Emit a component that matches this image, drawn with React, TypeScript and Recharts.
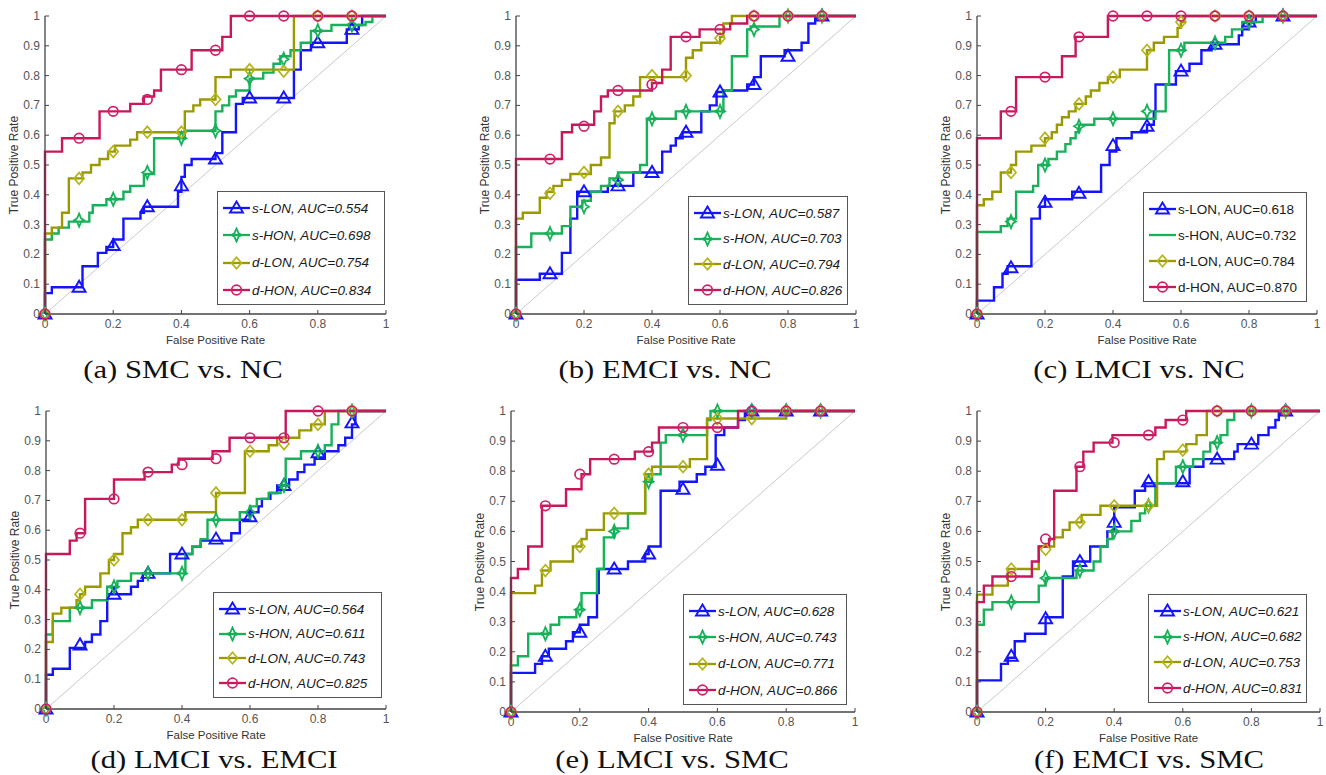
import React from "react";
import { ComposedChart, Line, Scatter, XAxis, YAxis, ReferenceLine, Legend } from "recharts";

type Pt = [number, number];

const markerX = [0, 0.1, 0.2, 0.3, 0.4, 0.5, 0.6, 0.7, 0.8, 0.9];
const xTicks = [0, 0.2, 0.4, 0.6, 0.8, 1];
const yTicks = [0, 0.1, 0.2, 0.3, 0.4, 0.5, 0.6, 0.7, 0.8, 0.9, 1];
const seriesNames = ["s-LON", "s-HON", "d-LON", "d-HON"];

// (a) SMC vs. NC
const aSLon: Pt[] = [[0,0],[0,0.07],[0.02,0.09],[0.11,0.16],[0.155,0.205],[0.18,0.225],[0.2,0.25],[0.23,0.32],[0.28,0.34],[0.29,0.36],[0.39,0.41],[0.4,0.46],[0.41,0.5],[0.43,0.52],[0.5,0.54],[0.52,0.61],[0.56,0.705],[0.58,0.725],[0.73,0.82],[0.75,0.885],[0.78,0.91],[0.885,0.955],[0.92,0.97],[0.93,1],[1,1]];
const aSHon: Pt[] = [[0,0],[0,0.25],[0.02,0.27],[0.04,0.29],[0.07,0.31],[0.13,0.34],[0.14,0.365],[0.18,0.385],[0.23,0.41],[0.25,0.43],[0.29,0.47],[0.32,0.59],[0.41,0.615],[0.5,0.68],[0.52,0.7],[0.54,0.73],[0.56,0.75],[0.6,0.79],[0.64,0.81],[0.67,0.84],[0.69,0.865],[0.72,0.885],[0.75,0.91],[0.78,0.95],[0.84,0.97],[0.94,0.98],[0.96,1],[1,1]];
const aDLon: Pt[] = [[0,0],[0,0.27],[0.02,0.29],[0.05,0.34],[0.07,0.455],[0.11,0.475],[0.135,0.5],[0.16,0.52],[0.185,0.545],[0.205,0.565],[0.25,0.585],[0.27,0.61],[0.41,0.68],[0.435,0.7],[0.455,0.72],[0.5,0.795],[0.545,0.82],[0.73,1],[1,1]];
const aDHon: Pt[] = [[0,0],[0,0.545],[0.05,0.59],[0.16,0.68],[0.25,0.705],[0.29,0.73],[0.32,0.75],[0.34,0.82],[0.43,0.885],[0.52,0.93],[0.545,1],[1,1]];
const aSLonMk = [0,0.09,0.23,0.36,0.43,0.52,0.725,0.725,0.91,0.955];
const aSHonMk = [0,0.315,0.385,0.475,0.59,0.615,0.79,0.855,0.95,0.97];
const aDLonMk = [0,0.455,0.545,0.61,0.61,0.72,0.82,0.815,1,1];
const aDHonMk = [0,0.59,0.68,0.72,0.82,0.885,1,1,1,1];
const aAuc = ["0.554", "0.698", "0.754", "0.834"];

// (b) EMCI vs. NC
const bSLon: Pt[] = [[0,0],[0,0.115],[0.07,0.135],[0.135,0.205],[0.16,0.32],[0.18,0.41],[0.27,0.43],[0.345,0.475],[0.43,0.545],[0.455,0.565],[0.47,0.59],[0.49,0.61],[0.545,0.68],[0.57,0.7],[0.59,0.745],[0.61,0.75],[0.68,0.77],[0.7,0.795],[0.72,0.865],[0.79,0.885],[0.84,0.91],[0.86,0.975],[0.88,1],[1,1]];
const bSHon: Pt[] = [[0,0],[0,0.225],[0.045,0.27],[0.135,0.295],[0.16,0.36],[0.195,0.38],[0.22,0.41],[0.25,0.43],[0.275,0.455],[0.3,0.475],[0.365,0.5],[0.385,0.655],[0.47,0.68],[0.61,0.75],[0.635,0.865],[0.68,0.955],[0.69,0.965],[0.775,1],[1,1]];
const bDLon: Pt[] = [[0,0],[0,0.32],[0.02,0.34],[0.07,0.39],[0.09,0.41],[0.11,0.43],[0.135,0.45],[0.16,0.47],[0.22,0.5],[0.25,0.525],[0.275,0.64],[0.29,0.68],[0.32,0.7],[0.345,0.73],[0.365,0.795],[0.5,0.86],[0.52,0.885],[0.545,0.91],[0.6,0.93],[0.61,0.975],[0.635,1],[1,1]];
const bDHon: Pt[] = [[0,0],[0,0.52],[0.135,0.61],[0.165,0.635],[0.23,0.68],[0.25,0.73],[0.27,0.75],[0.4,0.775],[0.43,0.82],[0.455,0.93],[0.54,0.955],[0.63,0.975],[0.68,1],[1,1]];
const bSLonMk = [0,0.135,0.41,0.43,0.475,0.61,0.745,0.77,0.865,1];
const bSHonMk = [0,0.27,0.36,0.45,0.655,0.68,0.68,0.955,1,1];
const bDLonMk = [0,0.405,0.475,0.68,0.8,0.8,0.925,1,1,1];
const bDHonMk = [0,0.52,0.63,0.75,0.77,0.93,0.955,1,1,1];
const bAuc = ["0.587", "0.703", "0.794", "0.826"];

// (c) LMCI vs. NC
const cSLon: Pt[] = [[0,0],[0,0.045],[0.05,0.09],[0.075,0.135],[0.09,0.16],[0.16,0.32],[0.185,0.36],[0.2,0.385],[0.28,0.41],[0.365,0.5],[0.39,0.545],[0.41,0.59],[0.455,0.61],[0.5,0.635],[0.52,0.68],[0.525,0.77],[0.585,0.815],[0.625,0.84],[0.66,0.885],[0.69,0.905],[0.77,0.935],[0.78,0.955],[0.8,0.98],[0.82,1],[1,1]];
const cSHon: Pt[] = [[0,0],[0,0.275],[0.07,0.295],[0.09,0.32],[0.115,0.41],[0.165,0.43],[0.18,0.5],[0.21,0.52],[0.235,0.545],[0.26,0.57],[0.275,0.59],[0.29,0.61],[0.3,0.635],[0.345,0.655],[0.525,0.68],[0.555,0.77],[0.565,0.885],[0.61,0.91],[0.73,0.93],[0.75,0.955],[0.78,0.98],[0.84,1],[1,1]];
const cDLon: Pt[] = [[0,0],[0,0.365],[0.02,0.385],[0.045,0.41],[0.07,0.475],[0.1,0.5],[0.115,0.545],[0.16,0.565],[0.2,0.59],[0.22,0.61],[0.235,0.635],[0.25,0.66],[0.27,0.68],[0.29,0.705],[0.32,0.73],[0.335,0.75],[0.36,0.775],[0.385,0.795],[0.42,0.82],[0.5,0.885],[0.52,0.91],[0.55,0.93],[0.59,0.96],[0.6,0.98],[0.61,1],[1,1]];
const cDHon: Pt[] = [[0,0],[0,0.59],[0.07,0.68],[0.115,0.795],[0.25,0.865],[0.29,0.93],[0.385,1],[1,1]];
const cSLonMk = [0,0.155,0.375,0.405,0.565,0.63,0.815,0.905,0.98,1];
const cSHonMk = [0,0.31,0.5,0.63,0.655,0.68,0.885,0.91,0.98,1];
const cDLonMk = [0,0.475,0.59,0.705,0.795,0.885,0.98,1,1,1];
const cDHonMk = [0,0.68,0.795,0.93,1,1,1,1,1,1];
const cAuc = ["0.618", "0.732", "0.784", "0.870"];

// (d) LMCI vs. EMCI
const dSLon: Pt[] = [[0,0],[0,0.115],[0.02,0.135],[0.07,0.205],[0.115,0.225],[0.135,0.25],[0.16,0.295],[0.18,0.385],[0.25,0.41],[0.27,0.43],[0.285,0.455],[0.365,0.52],[0.43,0.545],[0.455,0.565],[0.545,0.59],[0.57,0.635],[0.6,0.66],[0.625,0.68],[0.635,0.705],[0.66,0.725],[0.68,0.75],[0.715,0.77],[0.74,0.795],[0.76,0.82],[0.79,0.84],[0.82,0.865],[0.86,0.885],[0.88,0.91],[0.9,0.955],[0.91,1],[1,1]];
const dSHon: Pt[] = [[0,0],[0,0.25],[0.02,0.295],[0.07,0.34],[0.135,0.365],[0.18,0.41],[0.21,0.43],[0.25,0.455],[0.41,0.52],[0.43,0.545],[0.455,0.57],[0.475,0.635],[0.57,0.66],[0.6,0.68],[0.62,0.705],[0.655,0.725],[0.69,0.75],[0.705,0.84],[0.75,0.865],[0.82,0.885],[0.84,0.955],[0.86,1],[1,1]];
const dDLon: Pt[] = [[0,0],[0,0.225],[0.02,0.32],[0.045,0.34],[0.09,0.365],[0.1,0.385],[0.115,0.41],[0.16,0.455],[0.185,0.5],[0.2,0.52],[0.225,0.59],[0.25,0.61],[0.27,0.635],[0.41,0.66],[0.5,0.725],[0.585,0.865],[0.655,0.885],[0.68,0.91],[0.745,0.935],[0.78,0.955],[0.82,1],[1,1]];
const dDHon: Pt[] = [[0,0],[0,0.52],[0.07,0.565],[0.09,0.59],[0.115,0.705],[0.2,0.77],[0.29,0.795],[0.37,0.82],[0.39,0.84],[0.49,0.865],[0.54,0.91],[0.705,1],[1,1]];
const dSLonMk = [0,0.215,0.385,0.455,0.52,0.57,0.645,0.75,0.86,0.96];
const dSHonMk = [0,0.34,0.41,0.455,0.455,0.635,0.66,0.75,0.865,1];
const dDLonMk = [0,0.385,0.5,0.635,0.635,0.725,0.865,0.89,0.955,1];
const dDHonMk = [0,0.59,0.705,0.795,0.82,0.84,0.91,0.91,1,1];
const dAuc = ["0.564", "0.611", "0.743", "0.825"];

// (e) LMCI vs. SMC
const eSLon: Pt[] = [[0,0],[0,0.13],[0.07,0.16],[0.09,0.185],[0.11,0.21],[0.16,0.235],[0.18,0.265],[0.2,0.29],[0.225,0.315],[0.25,0.395],[0.255,0.475],[0.34,0.5],[0.39,0.525],[0.4,0.55],[0.435,0.735],[0.49,0.765],[0.54,0.79],[0.565,0.815],[0.595,0.92],[0.62,0.945],[0.66,0.97],[0.68,1],[1,1]];
const eSHon: Pt[] = [[0,0],[0,0.155],[0.02,0.185],[0.05,0.26],[0.115,0.29],[0.14,0.315],[0.19,0.34],[0.205,0.395],[0.25,0.475],[0.27,0.58],[0.3,0.61],[0.34,0.66],[0.39,0.765],[0.41,0.79],[0.435,0.895],[0.45,0.92],[0.57,0.97],[0.58,1],[1,1]];
const eDLon: Pt[] = [[0,0],[0,0.395],[0.07,0.42],[0.09,0.47],[0.115,0.5],[0.18,0.55],[0.205,0.575],[0.22,0.605],[0.27,0.66],[0.39,0.79],[0.41,0.815],[0.52,0.84],[0.57,0.975],[0.8,1],[1,1]];
const eDHon: Pt[] = [[0,0],[0,0.445],[0.02,0.475],[0.05,0.55],[0.09,0.685],[0.16,0.74],[0.205,0.79],[0.23,0.84],[0.36,0.865],[0.41,0.895],[0.43,0.945],[0.66,1],[1,1]];
const eSLonMk = [0,0.185,0.265,0.475,0.525,0.74,0.82,1,1,1];
const eSHonMk = [0,0.26,0.34,0.6,0.765,0.92,1,1,1,1];
const eDLonMk = [0,0.47,0.55,0.66,0.79,0.815,0.975,0.975,1,1];
const eDHonMk = [0,0.685,0.79,0.84,0.865,0.945,0.945,1,1,1];
const eAuc = ["0.628", "0.743", "0.771", "0.866"];

// (f) EMCI vs. SMC
const fSLon: Pt[] = [[0,0],[0,0.105],[0.07,0.16],[0.09,0.18],[0.11,0.235],[0.14,0.26],[0.2,0.315],[0.25,0.45],[0.28,0.5],[0.33,0.55],[0.38,0.6],[0.4,0.68],[0.46,0.735],[0.49,0.76],[0.62,0.815],[0.66,0.84],[0.75,0.865],[0.76,0.89],[0.82,0.92],[0.85,0.945],[0.87,0.97],[0.88,1],[1,1]];
const fSHon: Pt[] = [[0,0],[0,0.29],[0.02,0.34],[0.045,0.365],[0.18,0.42],[0.2,0.445],[0.29,0.47],[0.34,0.5],[0.36,0.55],[0.38,0.575],[0.395,0.6],[0.45,0.635],[0.475,0.66],[0.49,0.685],[0.52,0.76],[0.58,0.815],[0.63,0.84],[0.66,0.865],[0.68,0.895],[0.71,0.92],[0.73,0.97],[0.75,1],[1,1]];
const fDLon: Pt[] = [[0,0],[0,0.39],[0.045,0.42],[0.09,0.475],[0.18,0.55],[0.225,0.58],[0.25,0.605],[0.27,0.63],[0.305,0.655],[0.36,0.685],[0.525,0.84],[0.545,0.865],[0.61,0.89],[0.64,0.92],[0.67,1],[1,1]];
const fDHon: Pt[] = [[0,0],[0,0.365],[0.02,0.42],[0.045,0.45],[0.16,0.5],[0.18,0.55],[0.21,0.575],[0.225,0.735],[0.29,0.815],[0.31,0.865],[0.34,0.895],[0.395,0.92],[0.52,0.945],[0.55,0.97],[0.61,1],[1,1]];
const fSLonMk = [0,0.185,0.31,0.5,0.63,0.765,0.765,0.84,0.89,1];
const fSHonMk = [0,0.365,0.445,0.47,0.6,0.685,0.815,0.895,1,1];
const fDLonMk = [0,0.475,0.54,0.63,0.685,0.685,0.87,1,1,1];
const fDHonMk = [0,0.45,0.575,0.815,0.895,0.92,0.97,1,1,1];
const fAuc = ["0.621", "0.682", "0.753", "0.831"];

const colors = ["#1414ff", "#16b158", "#9a9a00", "#c8185c"];
const markColors = ["#1414ff", "#16b158", "#b4b41a", "#d0206a"];
const sans = "'Liberation Sans', Arial, sans-serif";

interface Panel {
  caption: string;
  curves: Pt[][];
  marks: number[][];
  auc: string[];
  plot: { left: number; top: number; w: number; h: number };
  legend: { left: number; top: number; w: number; h: number };
  italic: boolean;
  noLegendMarker?: number;
  capX: number;
  capY: number;
}

const panels: Panel[] = [
  { caption: "(a) SMC vs. NC", curves: [aSLon, aSHon, aDLon, aDHon], marks: [aSLonMk, aSHonMk, aDLonMk, aDHonMk], auc: aAuc,
    plot: { left: 45, top: 16, w: 341, h: 298 }, legend: { left: 217, top: 191, w: 168, h: 114 }, italic: true, capX: 183, capY: 370 },
  { caption: "(b) EMCI vs. NC", curves: [bSLon, bSHon, bDLon, bDHon], marks: [bSLonMk, bSHonMk, bDLonMk, bDHonMk], auc: bAuc,
    plot: { left: 516, top: 16, w: 340, h: 298 }, legend: { left: 688, top: 196, w: 160, h: 109 }, italic: true, capX: 665, capY: 370 },
  { caption: "(c) LMCI vs. NC", curves: [cSLon, cSHon, cDLon, cDHon], marks: [cSLonMk, cSHonMk, cDLonMk, cDHonMk], auc: cAuc,
    plot: { left: 977, top: 16, w: 340, h: 298 }, legend: { left: 1143, top: 192, w: 164, h: 110 }, italic: false, noLegendMarker: 1, capX: 1139, capY: 370 },
  { caption: "(d) LMCI vs. EMCI", curves: [dSLon, dSHon, dDLon, dDHon], marks: [dSLonMk, dSHonMk, dDLonMk, dDHonMk], auc: dAuc,
    plot: { left: 46, top: 411, w: 340, h: 298 }, legend: { left: 213, top: 592, w: 169, h: 106 }, italic: true, capX: 214, capY: 760 },
  { caption: "(e) LMCI vs. SMC", curves: [eSLon, eSHon, eDLon, eDHon], marks: [eSLonMk, eSHonMk, eDLonMk, eDHonMk], auc: eAuc,
    plot: { left: 511, top: 411, w: 344, h: 301 }, legend: { left: 683, top: 594, w: 164, h: 111 }, italic: true, capX: 672, capY: 760 },
  { caption: "(f) EMCI vs. SMC", curves: [fSLon, fSHon, fDLon, fDHon], marks: [fSLonMk, fSHonMk, fDLonMk, fDHonMk], auc: fAuc,
    plot: { left: 977, top: 411, w: 343, h: 301 }, legend: { left: 1148, top: 594, w: 159, h: 109 }, italic: true, capX: 1149, capY: 760 },
];

function marker(i: number, cx: number, cy: number) {
  const c = markColors[i];
  if (i === 0)
    return <polygon points={`${cx},${cy - 6.5} ${cx - 6.5},${cy + 4.5} ${cx + 6.5},${cy + 4.5}`} fill="none" stroke={c} strokeWidth={1.9} />;
  if (i === 1)
    return (
      <path
        d={`M${cx},${cy - 6.5} L${cx + 2},${cy - 1.8} L${cx + 5},${cy} L${cx + 2},${cy + 1.8} L${cx},${cy + 6.5} L${cx - 2},${cy + 1.8} L${cx - 5},${cy} L${cx - 2},${cy - 1.8} Z`}
        fill="none" stroke={c} strokeWidth={1.8}
      />
    );
  if (i === 2)
    return <polygon points={`${cx},${cy - 5.8} ${cx + 5},${cy} ${cx},${cy + 5.8} ${cx - 5},${cy}`} fill="none" stroke={c} strokeWidth={1.7} />;
  return <circle cx={cx} cy={cy} r={4.8} fill="none" stroke={c} strokeWidth={1.7} />;
}

const fmtY = (v: number) => (v === 0 ? "0" : v === 1 ? "1" : v.toFixed(1));

const XTick = (props: any) => {
  const { x, y, payload } = props;
  return (
    <g>
      <line x1={x} x2={x} y1={y} y2={y - 4} stroke="#444" strokeWidth={1} />
      <text x={x} y={y + 14} textAnchor="middle" fontSize={12} fill="#555" fontFamily={sans}>
        {fmtY(payload.value)}
      </text>
    </g>
  );
};

const YTick = (props: any) => {
  const { x, y, payload } = props;
  return (
    <g>
      <line x1={x} x2={x + 4} y1={y} y2={y} stroke="#444" strokeWidth={1} />
      <text x={x - 5} y={y + 4} textAnchor="end" fontSize={12} fill="#555" fontFamily={sans}>
        {fmtY(payload.value)}
      </text>
    </g>
  );
};

function LegendBox({ p }: { p: Panel }) {
  const { w, h } = p.legend;
  return (
    <div style={{ width: w, height: h, border: "1px solid #555", background: "#fff", boxSizing: "border-box", position: "relative" }}>
      {seriesNames.map((name, i) => (
        <div key={name} style={{ position: "absolute", left: 4, top: 16 + (i * (h - 32)) / 3 - 9, height: 18, display: "flex", alignItems: "center", whiteSpace: "nowrap" }}>
          <svg width={29} height={16}>
            <line x1={1} x2={28} y1={8} y2={8} stroke={colors[i]} strokeWidth={2.3} />
            {p.noLegendMarker === i ? null : marker(i, 14.5, 8)}
          </svg>
          <span style={{ fontFamily: sans, fontSize: 13.5, fontStyle: p.italic ? "italic" : "normal", color: "#1a1a1a", marginLeft: 1 }}>
            {name}, AUC={p.auc[i]}
          </span>
        </div>
      ))}
    </div>
  );
}

function RocPanel({ p }: { p: Panel }) {
  const chartLeft = p.plot.left - 45;
  const chartTop = p.plot.top - 10;
  return (
    <>
      <div style={{ position: "absolute", left: chartLeft, top: chartTop }}>
        <ComposedChart width={p.plot.w + 55} height={p.plot.h + 40} margin={{ top: 10, right: 10, left: 0, bottom: 0 }}>
          <XAxis type="number" dataKey="x" domain={[0, 1]} ticks={xTicks} height={30}
            tickSize={0} tickMargin={0} tickLine={false} tick={XTick} axisLine={{ stroke: "#444", strokeWidth: 1.3 }} />
          <YAxis type="number" dataKey="y" domain={[0, 1]} ticks={yTicks} width={45}
            tickSize={0} tickMargin={0} tickLine={false} tick={YTick} axisLine={{ stroke: "#444", strokeWidth: 1.3 }} />
          <ReferenceLine segment={[{ x: 0, y: 0 }, { x: 1, y: 1 }]} stroke="#c9c9c9" strokeWidth={1} />
          {p.curves.map((c, i) => (
            <Line key={"l" + i} data={c.map(([x, y]) => ({ x, y }))} dataKey="y" type="stepAfter" stroke={colors[i]}
              strokeWidth={2.4} dot={false} activeDot={false} isAnimationActive={false} />
          ))}
          {p.marks.map((m, i) => (
            <Scatter key={"s" + i} data={markerX.map((x, j) => ({ x, y: m[j] }))} dataKey="y" isAnimationActive={false}
              shape={(sp: any) => marker(i, sp.cx, sp.cy)} />
          ))}
          <Legend layout="vertical" align="center" verticalAlign="middle"
            wrapperStyle={{ left: p.legend.left - chartLeft, top: p.legend.top - chartTop, width: p.legend.w, height: p.legend.h }}
            content={() => <LegendBox p={p} />} />
        </ComposedChart>
      </div>
      <div style={{ position: "absolute", left: p.plot.left + p.plot.w / 2, top: p.plot.top + p.plot.h + 26, transform: "translate(-50%, -50%)",
        fontFamily: sans, fontSize: 11.5, color: "#333", whiteSpace: "nowrap" }}>
        False Positive Rate
      </div>
      <div style={{ position: "absolute", left: p.plot.left - 31, top: p.plot.top + p.plot.h / 2, transform: "translate(-50%, -50%) rotate(-90deg)",
        fontFamily: sans, fontSize: 12, color: "#333", whiteSpace: "nowrap" }}>
        True Positive Rate
      </div>
      <div style={{ position: "absolute", left: p.capX, top: p.capY, transform: "translate(-50%, -50%) scaleX(1.18)",
        fontFamily: "'Liberation Serif', 'Times New Roman', serif", fontSize: 26, color: "#111", whiteSpace: "nowrap" }}>
        {p.caption}
      </div>
    </>
  );
}

export default function App() {
  return (
    <div style={{ position: "absolute", left: 0, top: 0, width: 1326, height: 775, background: "#fff", overflow: "hidden" }}>
      {panels.map((p) => (
        <RocPanel key={p.caption} p={p} />
      ))}
    </div>
  );
}
